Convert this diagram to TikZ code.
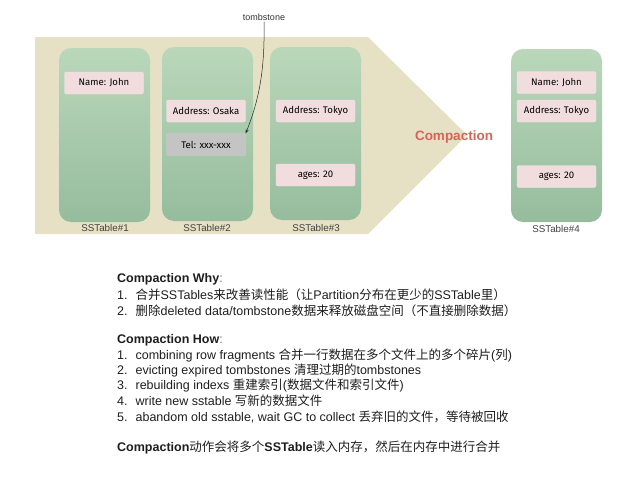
\documentclass[tikz,border=0pt]{standalone}
\usepackage{fontspec}
\setmainfont{Liberation Sans}
\newfontfamily\cjk{Noto Sans CJK SC}
\newfontfamily\boxfont{Fira Sans}
\usetikzlibrary{arrows.meta}
\definecolor{beige}{RGB}{230,225,196}
\definecolor{gtop}{RGB}{186,215,186}
\definecolor{gbot}{RGB}{150,188,158}
\definecolor{pinkbox}{RGB}{242,221,222}
\definecolor{graybox}{RGB}{196,196,196}
\definecolor{compred}{RGB}{218,98,88}
\definecolor{txt}{RGB}{30,30,30}
\tikzset{
  sstable/.style={rounded corners=12pt, top color=gtop, bottom color=gbot, draw=none},
  rec/.style={rounded corners=2pt, fill=pinkbox, draw=pinkbox!80!white, minimum width=79pt, minimum height=22pt, inner sep=0pt, font=\boxfont\fontsize{9.6}{10}\selectfont, text=black},
  recgray/.style={rec, fill=graybox, draw=graybox!80!white},
  tlabel/.style={font=\fontsize{9.8}{11}\selectfont, text=black!75},
  line/.style={anchor=west, inner sep=0pt, font=\fontsize{12.5}{14}\selectfont, text=txt},
}
\begin{document}
\begin{tikzpicture}[x=1pt,y=-1pt]
\useasboundingbox (0,0) rectangle (638,479);
% background pentagon
\fill[beige] (35,37) -- (368,37) -- (467,135) -- (368,234) -- (35,234) -- cycle;
% sstables
\shade[sstable] (59,48) rectangle (150,222);
\shade[sstable] (162,47) rectangle (253,221);
\shade[sstable] (270,47) rectangle (361,220);
\shade[sstable] (511,49) rectangle (602,222);
% labels
\node[tlabel] (l1) at (105,228) {SSTable\#1};
\node[tlabel] (l2) at (207,228) {SSTable\#2};
\node[tlabel] (l3) at (316,228) {SSTable\#3};
\node[tlabel] (l4) at (556,229) {SSTable\#4};
% records
\node[rec] (n1) at (104,83) {Name: John};
\node[rec] (a2) at (206,111) {Address: Osaka};
\node[recgray] (t2) at (206,144.5) {Tel: xxx-xxx};
\node[rec] (a3) at (315.5,111) {Address: Tokyo};
\node[rec] (g3) at (315.5,175) {ages: 20};
\node[rec] (n4) at (556.5,82.5) {Name: John};
\node[rec] (a4) at (556.5,111) {Address: Tokyo};
\node[rec] (g4) at (556.5,176.5) {ages: 20};
% compaction
\node[font=\bfseries\fontsize{13.5}{15}\selectfont, text=compred] (comp) at (454,137) {Compaction};
% tombstone
\node[font=\fontsize{9}{10}\selectfont, text=black!80, inner sep=1pt] (tomb) at (264,17) {tombstone};
\draw[black!85, line width=0.5pt, -{Stealth[length=4pt,width=3pt]}] (tomb.south) .. controls (265,70) and (259,100) .. (t2.north east);
% text
\node[line] (w0) at (117,279) {\textbf{Compaction Why}\textcolor{black!55}{:}};
\node[line] (w1) at (117,295) {1.\hspace{8pt}{\cjk 合并}SSTables{\cjk 来改善读性能（让}Partition{\cjk 分布在更少的}SSTable{\cjk 里）}};
\node[line] (w2) at (117,311) {2.\hspace{8pt}{\cjk 删除}deleted data/tombstone{\cjk 数据来释放磁盘空间（不直接删除数据）}};
\node[line] (h0) at (117,340) {\textbf{Compaction How}\textcolor{black!55}{:}};
\node[line] (h1) at (117,356) {1.\hspace{8pt}combining row fragments {\cjk 合并一行数据在多个文件上的多个碎片}({\cjk 列})};
\node[line] (h2) at (117,371) {2.\hspace{8pt}evicting expired tombstones {\cjk 清理过期的}tombstones};
\node[line] (h3) at (117,386) {3.\hspace{8pt}rebuilding indexs {\cjk 重建索引}({\cjk 数据文件和索引文件})};
\node[line] (h4) at (117,401) {4.\hspace{8pt}write new sstable {\cjk 写新的数据文件}};
\node[line] (h5) at (117,416.5) {5.\hspace{8pt}abandom old sstable, wait GC to collect {\cjk 丢弃旧的文件，等待被回收}};
\node[line] (f0) at (117,447) {\textbf{Compaction}{\cjk 动作会将多个}\textbf{SSTable}{\cjk 读入内存，然后在内存中进行合并}};
\end{tikzpicture}
\end{document}
